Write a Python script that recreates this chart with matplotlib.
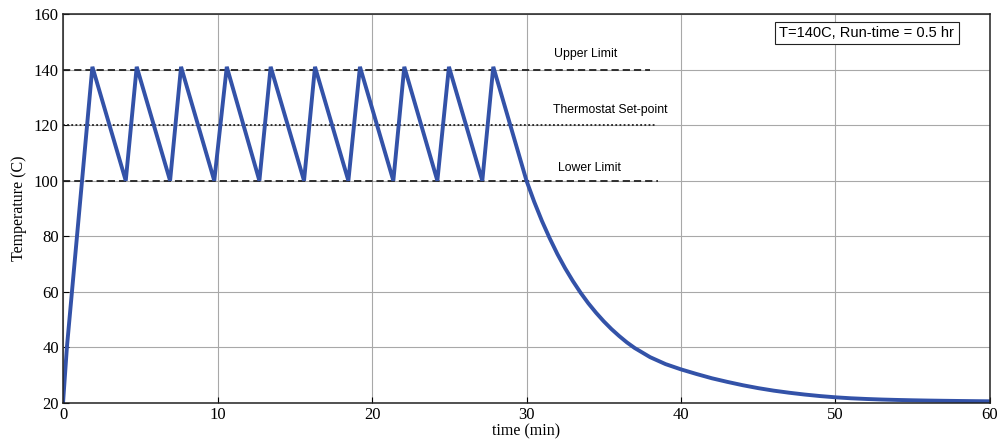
import matplotlib.pyplot as plt

# heating / cooling cycle read as (time, temperature) corner points
cycle_time = [0, 0.25, 1.9, 4.06, 4.77, 6.93, 7.64, 9.79, 10.6, 12.71, 13.44,
              15.6, 16.31, 18.47, 19.22, 21.38, 22.09, 24.23, 24.98, 27.14, 27.85]
cycle_temp = [20, 40, 141, 100, 141, 100, 141, 100, 141, 100, 141,
              100, 141, 100, 141, 100, 141, 100, 141, 100, 141]

# free cooling after the heater is switched off
cool_time = [30, 30.5, 31, 31.5, 32, 32.5, 33, 33.5, 34, 34.5, 35, 35.5, 36, 36.5,
             37, 38, 39, 40, 41, 42, 43, 44, 45, 46, 47, 48, 49, 50, 51, 52, 53,
             54, 55, 56, 57, 58, 59, 60]
cool_temp = [100, 92.4, 85.5, 79.3, 73.6, 68.5, 63.9, 59.7, 55.9, 52.5, 49.4, 46.6,
             44.1, 41.8, 39.8, 36.5, 34.0, 32.1, 30.45, 28.9, 27.6, 26.4, 25.35, 24.45,
             23.7, 23.05, 22.5, 22.05, 21.7, 21.45, 21.25, 21.1, 20.98, 20.88, 20.8,
             20.73, 20.67, 20.62]

upper_limit = 140
set_point = 120
lower_limit = 100

serif = "Liberation Serif"
sans = "Liberation Sans"

fig = plt.figure(figsize=(10.02, 4.46), dpi=100)
ax = fig.add_axes([0.0629, 0.0964, 0.9251, 0.8722])

ax.set_xlim(0, 60)
ax.set_ylim(20, 160)
ax.set_xticks(range(0, 61, 10))
ax.set_yticks(range(20, 161, 20))
ax.grid(True, color="#a8a8a8", linewidth=0.8)
ax.set_axisbelow(True)

ax.plot([0, 38.0], [upper_limit, upper_limit], color="#222222", linestyle=(0, (4, 2.2)), linewidth=1.3)
ax.plot([0, 38.3], [set_point, set_point], color="#222222", linestyle=(0, (1, 1.3)), linewidth=1.3)
ax.plot([0, 38.5], [lower_limit, lower_limit], color="#222222", linestyle=(0, (4, 2.2)), linewidth=1.3)

ax.plot(cycle_time + cool_time, cycle_temp + cool_temp, color="#3352a8", linewidth=2.8,
        solid_joinstyle="miter")

ax.text(33.8, 145.5, "Upper Limit", fontsize=8.8, family=sans, ha="center", va="center")
ax.text(35.4, 125.4, "Thermostat Set-point", fontsize=8.8, family=sans, ha="center", va="center")
ax.text(34.1, 104.5, "Lower Limit", fontsize=8.8, family=sans, ha="center", va="center")

ax.text(0.867, 0.951, "T=140C, Run-time = 0.5 hr", transform=ax.transAxes,
        fontsize=10.5, family=sans, ha="center", va="center",
        bbox=dict(boxstyle="square,pad=0.3", facecolor="white", edgecolor="#222222", linewidth=0.8))

ax.set_xlabel("time (min)", family=serif, fontsize=11.5, labelpad=0)
ax.set_ylabel("Temperature (C)", family=serif, fontsize=11.5, labelpad=5)
ax.tick_params(direction="in", length=4, width=0.8, labelsize=12, pad=3)
for lab in ax.get_xticklabels() + ax.get_yticklabels():
    lab.set_family(serif)
for sp in ax.spines.values():
    sp.set_linewidth(1.1)
    sp.set_color("#222222")

fig.savefig("out.png", dpi=100)
